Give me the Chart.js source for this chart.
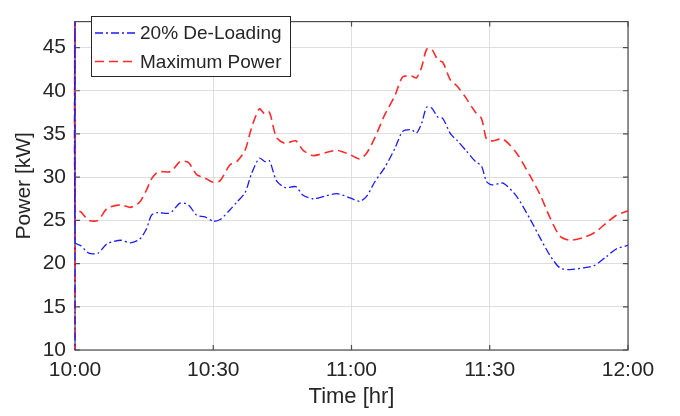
<!DOCTYPE html>
<html>
<head>
<meta charset="utf-8">
<script src="https://cdn.jsdelivr.net/npm/chart.js@4.4.1/dist/chart.umd.min.js"></script>
<style>
  html, body { margin: 0; padding: 0; background: #fff; }
</style>
</head>
<body>
<canvas id="pwr-graph" width="680" height="416"></canvas>
<script>
// time in minutes after 10:00
var minutes = [0, 0, 0.05, 1.2, 3, 5, 7, 10, 12, 14, 15.5, 16.6, 18, 20, 21, 22.8, 24.6, 26.4, 28.2, 30,
    31.5, 33.6, 35.1, 36.9, 38.3, 40, 41.2, 42.2, 43.7, 45.6, 47.9, 49.5, 51.7, 54.2, 56.8, 59.7,
    61.8, 63.3, 65.1, 67.2, 69.4, 71.1, 73, 74.1, 75.2, 76.3, 77.4, 78.8, 79.8, 81.5, 83, 84.8,
    86.9, 88.2, 89.3, 90.5, 92.9, 95.8, 98.7, 100.9, 103, 105.2, 107.4, 110.3, 112.8, 115.3, 117.5, 120];

var deLoading = [0, 50, 22.4, 22.1, 21.2, 21.2, 22.3, 22.7, 22.4, 22.8, 24.0, 25.6, 25.9, 25.8, 26.0, 27.0, 26.8, 25.6, 25.4, 24.9,
    25.1, 26.2, 27.1, 28.2, 30.4, 32.2, 31.8, 31.9, 29.6, 28.8, 28.9, 27.9, 27.5, 27.8, 28.1, 27.6,
    27.2, 27.8, 29.5, 31.1, 33.3, 35.3, 35.5, 35.1, 36.2, 38.1, 38.0, 36.9, 36.8, 35.0, 34.2, 33.1,
    31.8, 31.3, 29.5, 29.1, 29.3, 27.8, 25.2, 23.0, 21.0, 19.5, 19.3, 19.5, 19.8, 20.8, 21.7, 22.1];

var maxPower = [0, 50, 26.3, 26.0, 25.0, 25.0, 26.4, 26.8, 26.5, 27.1, 28.5, 29.8, 30.6, 30.6, 30.7, 31.8, 31.7, 30.3, 29.9, 29.4,
    29.6, 31.4, 31.8, 33.1, 35.7, 37.9, 37.3, 37.5, 34.6, 33.9, 34.2, 33.1, 32.5, 32.8, 33.1, 32.6,
    32.1, 32.8, 34.6, 37.2, 39.4, 41.6, 41.7, 41.5, 42.7, 44.8, 44.8, 43.5, 43.3, 41.2, 40.5, 39.2,
    37.5, 36.8, 34.4, 34.2, 34.4, 32.8, 30.2, 28.0, 25.4, 23.2, 22.7, 23.0, 23.6, 24.7, 25.6, 26.1];

var timeTicks = [0, 30, 60, 90, 120];
var timeLabels = ['10:00', '10:30', '11:00', '11:30', '12:00'];
var powerTicks = [10, 15, 20, 25, 30, 35, 40, 45];

var textColor = '#262626';
var fontFamily = '"Liberation Sans", Arial, sans-serif';

function toPoints(vals) {
    return minutes.map(function(m, i) { return {x: m, y: vals[i]}; });
}

// box round the plot, with MATLAB style inward ticks
var framePlugin = {
    id: 'frame',
    beforeDatasetsDraw: function(chart) {
        var a = chart.chartArea, ctx = chart.ctx;
        var xs = chart.scales.x, ys = chart.scales.y;
        ctx.save();
        ctx.strokeStyle = '#4d4d4d';
        ctx.lineWidth = 1.2;
        ctx.strokeRect(a.left, a.top, a.right - a.left, a.bottom - a.top);
        ctx.beginPath();
        powerTicks.forEach(function(v) {
            var py = ys.getPixelForValue(v);
            ctx.moveTo(a.left, py); ctx.lineTo(a.left + 5, py);
            ctx.moveTo(a.right, py); ctx.lineTo(a.right - 5, py);
        });
        timeTicks.forEach(function(v) {
            var px = xs.getPixelForValue(v);
            ctx.moveTo(px, a.bottom); ctx.lineTo(px, a.bottom - 5);
            ctx.moveTo(px, a.top); ctx.lineTo(px, a.top + 5);
        });
        ctx.stroke();
        ctx.restore();
    }
};

// boxed legend inside the top left corner
var boxLegend = {
    id: 'boxLegend',
    afterDraw: function(chart) {
        var ctx = chart.ctx;
        var bx = 91, by = 16, bw = 199, bh = 60;
        ctx.save();
        ctx.fillStyle = '#fff';
        ctx.fillRect(bx, by, bw, bh);
        ctx.strokeStyle = textColor;
        ctx.lineWidth = 1;
        ctx.strokeRect(bx + 0.5, by + 0.5, bw, bh);
        chart.data.datasets.forEach(function(ds, i) {
            var y = by + 17 + i * 28.5;
            ctx.beginPath();
            ctx.setLineDash(ds.borderDash);
            ctx.strokeStyle = ds.borderColor;
            ctx.lineWidth = ds.borderWidth;
            ctx.moveTo(bx + 4, y);
            ctx.lineTo(bx + 46, y);
            ctx.stroke();
            ctx.setLineDash([]);
            ctx.fillStyle = textColor;
            ctx.font = '19px ' + fontFamily;
            ctx.textBaseline = 'middle';
            ctx.fillText(ds.label, bx + 49, y + 1);
        });
        ctx.restore();
    }
};

var ctx = document.getElementById('pwr-graph');

new Chart(ctx, {
    type: 'line',
    data: {
        datasets: [{
            label: '20% De-Loading',
            data: toPoints(deLoading),
            borderColor: '#1a1aff',
            borderWidth: 1.3,
            borderDash: [8, 3, 2, 3],
            pointRadius: 0,
            tension: 0.25,
            clip: {left: 3, top: 0, right: 0, bottom: 0}
        }, {
            label: 'Maximum Power',
            data: toPoints(maxPower),
            borderColor: '#ff2a2a',
            borderWidth: 1.6,
            borderDash: [9, 5],
            pointRadius: 0,
            tension: 0.25,
            clip: {left: 3, top: 0, right: 0, bottom: 0}
        }]
    },
    options: {
        responsive: false,
        animation: false,
        layout: {
            padding: {left: 0, right: 52, top: 5, bottom: 0}
        },
        plugins: {
            legend: {display: false},
            tooltip: {enabled: false}
        },
        scales: {
            x: {
                type: 'linear',
                min: 0,
                max: 120,
                afterBuildTicks: function(scale) {
                    scale.ticks = timeTicks.map(function(v) { return {value: v}; });
                },
                afterFit: function(scale) { scale.height = 66; },
                ticks: {
                    padding: 8,
                    color: textColor,
                    font: {family: fontFamily, size: 21},
                    callback: function(v) { return timeLabels[timeTicks.indexOf(v)]; }
                },
                grid: {color: '#dedede', drawTicks: false},
                border: {display: false},
                title: {
                    display: true,
                    text: 'Time [hr]',
                    color: textColor,
                    font: {family: fontFamily, size: 22},
                    padding: {top: 0, bottom: 6}
                }
            },
            y: {
                min: 10,
                max: 48,
                afterBuildTicks: function(scale) {
                    scale.ticks = powerTicks.map(function(v) { return {value: v}; });
                },
                afterFit: function(scale) { scale.width = 75; },
                ticks: {
                    padding: 9,
                    color: textColor,
                    font: {family: fontFamily, size: 21}
                },
                grid: {color: '#dedede', drawTicks: false},
                border: {display: false},
                title: {
                    display: true,
                    text: 'Power [kW]',
                    color: textColor,
                    font: {family: fontFamily, size: 21},
                    padding: {top: 12, bottom: 0}
                }
            }
        }
    },
    plugins: [framePlugin, boxLegend]
});
</script>
</body>
</html>
